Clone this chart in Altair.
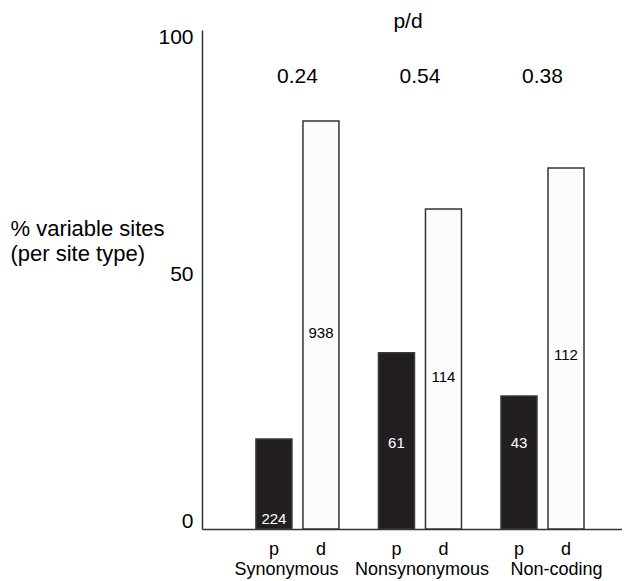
import altair as alt
import pandas as pd

groups = ["Synonymous", "Nonsynonymous", "Non-coding"]
site_class = ["p", "d"]
pct_p = [18.6, 36.4, 27.5]
pct_d = [84.3, 66.1, 74.6]
count_p = [224, 61, 43]
count_d = [938, 114, 112]
label_pos_p = [2.1, 17.8, 17.8]
label_pos_d = [40.5, 31.4, 36.0]
ratio = ["0.24", "0.54", "0.38"]
y_ticks = [0, 50, 100]

rows = []
for i, g in enumerate(groups):
    rows.append({"group": g, "cls": "p", "pct": pct_p[i], "count": count_p[i], "lab": label_pos_p[i]})
    rows.append({"group": g, "cls": "d", "pct": pct_d[i], "count": count_d[i], "lab": label_pos_d[i]})
df = pd.DataFrame(rows)
df_ratio = pd.DataFrame({"group": groups, "ratio": ratio})
df_title = pd.DataFrame({"t": ["p/d"]})

FONT = "Liberation Sans"

x_enc = alt.X(
    "group:N",
    sort=groups,
    scale=alt.Scale(paddingInner=0, paddingOuter=0.214, align=0.652),
    axis=alt.Axis(
        title=None, labelAngle=0, ticks=False, labelFontSize=18,
        labelBaseline="alphabetic", labelPadding=45, labelColor="black",
        labelOffset={
            "condition": [
                {"test": "datum.value == 'Synonymous'", "value": -11},
                {"test": "datum.value == 'Non-coding'", "value": 14},
            ],
            "value": 2,
        },
        domainColor="#333333", domainWidth=1.5, grid=False,
    ),
)
xoff = alt.XOffset(
    "cls:N", sort=site_class,
    scale=alt.Scale(paddingInner=0.234, paddingOuter=0.42),
)
y_enc = alt.Y(
    "pct:Q",
    scale=alt.Scale(domain=[0, 103.1], nice=False),
    axis=alt.Axis(
        values=y_ticks, title=["% variable sites", "(per site type)"],
        titleAngle=0, titleAlign="left", titleX=-192, titleY=205,
        titleBaseline="alphabetic", titleFontSize=22, titleFontWeight="normal",
        titleLineHeight=25, titleColor="black",
        labelFontSize=21, labelBaseline="alphabetic", labelPadding=9,
        labelOffset={
            "condition": {"test": "datum.value == 50", "value": -7},
            "value": -2,
        },
        labelColor="black", ticks=False, grid=False,
        domainColor="#333333", domainWidth=1.5,
    ),
)

base = alt.Chart(df)

bars = base.mark_bar(strokeWidth=1.5).encode(
    x=x_enc,
    xOffset=xoff,
    y=y_enc,
    fill=alt.Fill("cls:N", scale=alt.Scale(domain=site_class, range=["#231f20", "#fcfcfc"]), legend=None),
    stroke=alt.Stroke("cls:N", scale=alt.Scale(domain=site_class, range=["#3a3a3a", "#333333"]), legend=None),
)

counts = base.mark_text(fontSize=15, baseline="middle", font=FONT).encode(
    x=alt.X("group:N", sort=groups),
    xOffset=alt.XOffset("cls:N", sort=site_class),
    y=alt.Y("lab:Q"),
    text=alt.Text("count:N"),
    color=alt.Color("cls:N", scale=alt.Scale(domain=site_class, range=["#ffffff", "#000000"]), legend=None),
)

cls_labels = base.mark_text(fontSize=18, baseline="alphabetic", font=FONT, color="black").encode(
    x=alt.X("group:N", sort=groups),
    xOffset=alt.XOffset("cls:N", sort=site_class),
    y=alt.value(525),
    text=alt.Text("cls:N"),
)

ratios = alt.Chart(df_ratio).mark_text(fontSize=21, baseline="alphabetic", font=FONT, color="black").encode(
    x=alt.X("group:N", sort=groups),
    y=alt.value(52.5),
    text=alt.Text("ratio:N"),
)

pd_title = alt.Chart(df_title).mark_text(fontSize=21, baseline="alphabetic", font=FONT, color="black").encode(
    x=alt.value(206),
    y=alt.value(-2.5),
    text=alt.Text("t:N"),
)

chart = (
    alt.layer(bars, counts, cls_labels, ratios, pd_title)
    .resolve_scale(color="independent")
    .properties(
        width=420,
        height=499,
        padding={"left": 194, "top": 22, "right": 0, "bottom": 58},
        autosize=alt.AutoSizeParams(type="none"),
    )
    .configure(font=FONT)
    .configure_view(stroke=None)
    .configure_axis(labelFont=FONT, titleFont=FONT)
)

chart.save("out.html", embed_options={"renderer": "svg", "actions": False})
